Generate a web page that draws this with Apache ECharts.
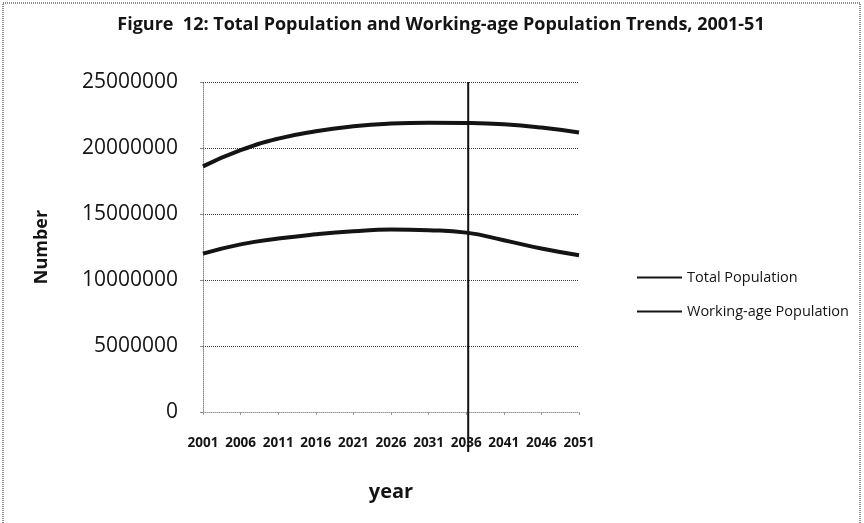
<!DOCTYPE html>
<html>
<head>
<meta charset="utf-8">
<script src="https://cdn.jsdelivr.net/npm/echarts@6/dist/echarts.min.js"></script>
<style>
  html, body { margin: 0; padding: 0; background: #ffffff; }
  #chart { width: 864px; height: 523px; }
</style>
</head>
<body>
<div id="chart"></div>
<script>
// Census years, 2001 to 2051
const years = ['2001', '2006', '2011', '2016', '2021', '2026', '2031', '2036', '2041', '2046', '2051'];

// Projected head counts
const totalPopulation = [18610000, 19830000, 20710000, 21270000, 21640000, 21850000, 21920000, 21900000, 21800000, 21550000, 21170000];
const workingAgePopulation = [12000000, 12700000, 13140000, 13460000, 13690000, 13820000, 13770000, 13590000, 13010000, 12380000, 11870000];

// Y axis ticks
const yTicks = [0, 5000000, 10000000, 15000000, 20000000, 25000000];

// Year at which the vertical divider is drawn
const markerYear = '2036';

const ink = '#141414';
const chart = echarts.init(document.getElementById('chart'), null, { renderer: 'canvas' });

const option = {
  backgroundColor: '#ffffff',
  animation: false,
  title: {
    text: 'Figure  12: Total Population and Working-age Population Trends, 2001-51',
    left: 436,
    textAlign: 'center',
    top: 11,
    textStyle: { fontFamily: 'Open Sans', fontWeight: 'bold', fontSize: 18, color: ink }
  },
  grid: { left: 203, right: 285, top: 82, bottom: 111 },
  legend: {
    orient: 'vertical',
    left: 632,
    top: 265,
    itemWidth: 45,
    itemHeight: 2,
    itemGap: 19,
    icon: 'rect',
    textStyle: { fontFamily: 'Open Sans', fontSize: 14.5, color: ink },
    data: ['Total Population', 'Working-age Population']
  },
  xAxis: {
    type: 'category',
    data: years,
    boundaryGap: false,
    name: 'year',
    nameLocation: 'middle',
    nameGap: 70,
    nameTextStyle: { fontFamily: 'Open Sans', fontWeight: 'bold', fontSize: 20, color: ink },
    axisLine: { show: true, lineStyle: { color: '#9a9a9a', type: 'dotted', width: 1 } },
    axisTick: { show: true, alignWithLabel: true, length: 3, lineStyle: { color: '#9a9a9a' } },
    axisLabel: { interval: 0, margin: 24, fontFamily: 'Open Sans', fontWeight: 'bold', fontSize: 13.5, color: ink },
    splitLine: { show: false }
  },
  yAxis: {
    type: 'value',
    min: yTicks[0],
    max: yTicks[yTicks.length - 1],
    interval: yTicks[1] - yTicks[0],
    name: 'Number',
    nameLocation: 'middle',
    nameRotate: 90,
    nameGap: 152,
    nameTextStyle: { fontFamily: 'Open Sans', fontWeight: 'bold', fontSize: 18, color: ink },
    axisLine: { show: true, lineStyle: { color: '#8a8a8a', type: 'dotted', width: 1 } },
    axisTick: { show: true, length: 3, lineStyle: { color: '#8a8a8a' } },
    axisLabel: {
      margin: 25,
      fontFamily: 'Open Sans',
      fontSize: 21,
      color: ink,
      formatter: (v) => String(v)
    },
    splitLine: {
      show: true,
      lineStyle: { color: ['#b5b5b5', '#3a3a3a', '#3a3a3a', '#3a3a3a', '#3a3a3a', '#3a3a3a'], type: 'dotted', width: 1 }
    }
  },
  series: [
    {
      name: 'Total Population',
      type: 'line',
      data: totalPopulation,
      smooth: true,
      symbol: 'none',
      lineStyle: { color: ink, width: 4 },
      itemStyle: { color: ink }
    },
    {
      name: 'Working-age Population',
      type: 'line',
      data: workingAgePopulation,
      smooth: true,
      symbol: 'none',
      lineStyle: { color: ink, width: 4 },
      itemStyle: { color: ink }
    }
  ]
};

chart.setOption(option);

// Vertical divider through the chosen year, from the top gridline down past the axis labels
const markerX = chart.convertToPixel({ xAxisIndex: 0 }, markerYear);
const topY = chart.convertToPixel({ yAxisIndex: 0 }, yTicks[yTicks.length - 1]);
const baseY = chart.convertToPixel({ yAxisIndex: 0 }, yTicks[0]);

chart.setOption({
  graphic: [
    {
      type: 'rect',
      shape: { x: 3, y: 3, width: 857, height: 560 },
      style: { fill: 'none', stroke: '#6a6a6a', lineWidth: 1.5, lineDash: [1, 1] },
      silent: true
    },
    {
      type: 'line',
      shape: { x1: markerX + 2, y1: topY, x2: markerX + 2, y2: baseY + 40 },
      style: { stroke: '#111111', lineWidth: 2 },
      silent: true,
      z: 10
    }
  ]
});
</script>
</body>
</html>
